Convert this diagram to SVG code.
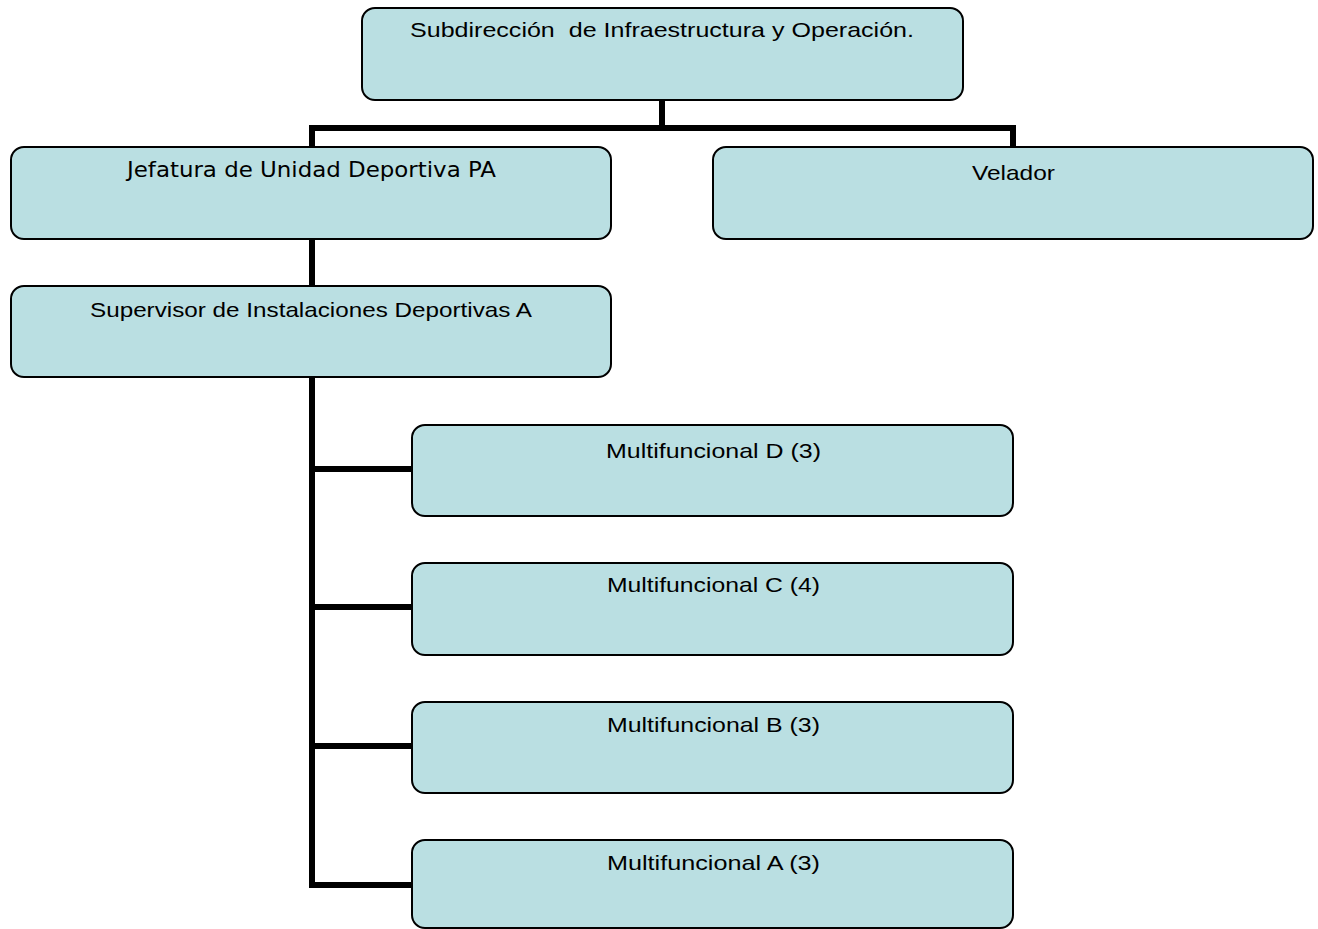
<svg xmlns="http://www.w3.org/2000/svg" width="1318" height="929" viewBox="0 0 1318 929">
<style>
.box{fill:#BADFE2;stroke:#000;stroke-width:2}
.lbl{font-family:"Liberation Sans",Arial,sans-serif;font-size:21px;fill:#000;white-space:pre}
.conn{fill:none;stroke:#000;stroke-width:6;stroke-linecap:butt;stroke-linejoin:miter}
</style>
<rect width="1318" height="929" fill="#fff"/>
<g id="connectors">
<path class="conn" d="M662,100 V128 M312,147 V128 H1013 V147"/>
<path class="conn" d="M312,239 V286"/>
<path class="conn" d="M312,377 V885 H412 M312,469 H412 M312,607 H412 M312,746 H412"/>
</g>
<g id="n-subdireccion">
<rect class="box" x="362" y="8" width="601" height="92" rx="13"/>
<text class="lbl" x="410" y="37" font-size="20" textLength="504" lengthAdjust="spacingAndGlyphs">Subdirección  de Infraestructura y Operación.</text>
</g>
<g id="n-jefatura">
<rect class="box" x="11" y="147" width="600" height="92" rx="13"/>
<text class="lbl" x="127" y="177" style="font-family:'DejaVu Sans',sans-serif" font-size="21" textLength="369" lengthAdjust="spacingAndGlyphs">Jefatura de Unidad Deportiva PA</text>
</g>
<g id="n-velador">
<rect class="box" x="713" y="147" width="600" height="92" rx="13"/>
<text class="lbl" x="972" y="180" textLength="83" lengthAdjust="spacingAndGlyphs">Velador</text>
</g>
<g id="n-supervisor">
<rect class="box" x="11" y="286" width="600" height="91" rx="13"/>
<text class="lbl" x="90" y="317" textLength="442" lengthAdjust="spacingAndGlyphs">Supervisor de Instalaciones Deportivas A</text>
</g>
<g id="n-multi-d">
<rect class="box" x="412" y="425" width="601" height="91" rx="13"/>
<text class="lbl" x="606" y="458" textLength="215" lengthAdjust="spacingAndGlyphs">Multifuncional D (3)</text>
</g>
<g id="n-multi-c">
<rect class="box" x="412" y="563" width="601" height="92" rx="13"/>
<text class="lbl" x="607" y="592" textLength="213" lengthAdjust="spacingAndGlyphs">Multifuncional C (4)</text>
</g>
<g id="n-multi-b">
<rect class="box" x="412" y="702" width="601" height="91" rx="13"/>
<text class="lbl" x="607" y="732" textLength="213" lengthAdjust="spacingAndGlyphs">Multifuncional B (3)</text>
</g>
<g id="n-multi-a">
<rect class="box" x="412" y="840" width="601" height="88" rx="13"/>
<text class="lbl" x="607" y="870" textLength="213" lengthAdjust="spacingAndGlyphs">Multifuncional A (3)</text>
</g>
</svg>
